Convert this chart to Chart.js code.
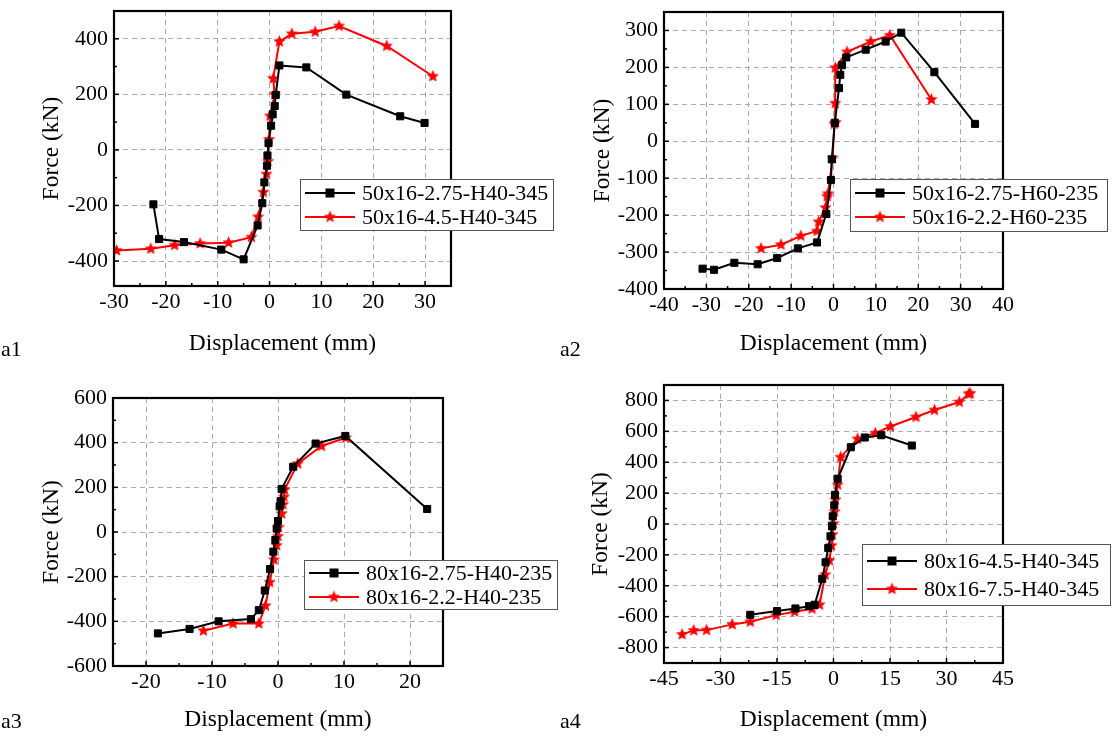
<!DOCTYPE html>
<html lang="en">
<head>
<meta charset="UTF-8">
<title>Force - Displacement curves</title>
<script src="https://cdn.jsdelivr.net/npm/chart.js"></script>
<style>
  body { margin: 0; background: #fff; }
  #wrap { position: relative; width: 1116px; height: 739px; overflow: hidden; }
  canvas { position: absolute; }
  .tag { position: absolute; font: 22px "Liberation Serif", "Times New Roman", serif; color: #000; }
</style>
</head>
<body>
<div id="wrap">
  <canvas id="a1" width="558" height="370" style="left:0;top:0"></canvas>
  <canvas id="a2" width="558" height="370" style="left:558px;top:0"></canvas>
  <canvas id="a3" width="558" height="369" style="left:0;top:370px"></canvas>
  <canvas id="a4" width="558" height="369" style="left:558px;top:370px"></canvas>
  <div class="tag" style="left:1px;top:336px">a1</div>
  <div class="tag" style="left:560px;top:336px">a2</div>
  <div class="tag" style="left:1px;top:708px">a3</div>
  <div class="tag" style="left:560px;top:708px">a4</div>
</div>
<script>
// ---- a1 ----
const a1Names = ['50x16-2.75-H40-345', '50x16-4.5-H40-345'];
const a1BlackX = [-22.4, -21.3, -16.5, -9.3, -5.0, -2.3, -1.4, -1.0, -0.5, -0.4, -0.2, 0.3, 0.6, 1.0, 1.2, 1.9, 7.1, 14.8, 25.2, 29.9];
const a1BlackY = [-196, -321, -332, -359, -394, -272, -192, -117, -57, -20, 24, 87, 128, 158, 198, 304, 297, 199, 121, 97];
const a1RedX = [-29.5, -22.9, -18.3, -13.4, -7.9, -3.5, -2.2, -1.2, -0.6, -0.3, -0.1, 0.1, 1.0, 0.7, 1.9, 4.3, 8.8, 13.4, 22.6, 31.5];
const a1RedY = [-362, -356, -343, -337, -334, -314, -241, -152, -87, -41, 38, 122, 201, 257, 390, 418, 425, 446, 374, 265];
const a1XTicks = [-30, -20, -10, 0, 10, 20, 30];
const a1YTicks = [-400, -200, 0, 200, 400];

// ---- a2 ----
const a2Names = ['50x16-2.75-H60-235', '50x16-2.2-H60-235'];
const a2BlackX = [-30.9, -28.2, -23.4, -17.9, -13.3, -8.4, -3.9, -1.7, -0.6, -0.4, 0.3, 1.3, 1.6, 2.0, 3.0, 7.6, 12.3, 16.0, 23.8, 33.4];
const a2BlackY = [-345, -348, -329, -333, -316, -290, -274, -197, -105, -49, 50, 144, 180, 206, 227, 248, 270, 294, 187, 47];
const a2RedX = [-17.1, -12.4, -7.7, -3.9, -3.5, -1.9, -1.5, -1.3, -0.2, 0.2, 0.5, 0.4, 0.4, 3.2, 8.8, 13.3, 23.1];
const a2RedY = [-290, -280, -256, -243, -218, -180, -149, -142, -45, 47, 51, 103, 199, 242, 270, 287, 113];
const a2XTicks = [-40, -30, -20, -10, 0, 10, 20, 30, 40];
const a2YTicks = [-400, -300, -200, -100, 0, 100, 200, 300];

// ---- a3 ----
const a3Names = ['80x16-2.75-H40-235', '80x16-2.2-H40-235'];
const a3BlackX = [-18.2, -13.4, -9.0, -4.1, -2.9, -2.0, -1.2, -0.7, -0.4, -0.2, 0, 0.25, 0.4, 0.55, 2.3, 5.7, 10.2, 22.6];
const a3BlackY = [-454, -434, -400, -390, -350, -262, -166, -88, -36, 15, 49, 115, 138, 193, 292, 396, 430, 103];
const a3RedX = [-11.3, -6.8, -2.9, -1.9, -1.25, -0.6, -0.2, 0, 0.1, 0.55, 0.75, 0.9, 1.0, 3.0, 6.6, 10.3];
const a3RedY = [-442, -410, -410, -330, -225, -124, -60, -19, 21, 82, 123, 157, 190, 306, 385, 422];
const a3XTicks = [-20, -10, 0, 10, 20];
const a3YTicks = [-600, -400, -200, 0, 200, 400, 600];

// ---- a4 ----
const a4Names = ['80x16-4.5-H40-345', '80x16-7.5-H40-345'];
const a4BlackX = [-22.1, -15.0, -10.1, -6.5, -5.0, -3.0, -2.1, -1.4, -0.8, -0.4, -0.2, 0.2, 0.4, 1.1, 4.6, 8.3, 12.7, 20.8];
const a4BlackY = [-588, -564, -547, -532, -523, -355, -248, -155, -80, -15, 50, 121, 189, 293, 497, 560, 575, 508];
const a4RedX = [-40.2, -37.1, -33.7, -26.9, -22.1, -15.2, -10.3, -5.7, -3.7, -2.2, -1.1, -0.5, -0.3, 0, 0.3, 0.5, 1.1, 1.9, 6.4, 11.1, 15.1, 21.9, 26.8, 33.4, 35.9, 36.3];
const a4RedY = [-715, -689, -687, -650, -633, -590, -568, -549, -523, -329, -235, -140, -69, 2, 80, 157, 254, 433, 551, 588, 631, 693, 738, 790, 842, 846];
const a4XTicks = [-45, -30, -15, 0, 15, 30, 45];
const a4YTicks = [-800, -600, -400, -200, 0, 200, 400, 600, 800];

const SERIF = '"Liberation Serif", "Times New Roman", serif';

// filled five-point star used as the red marker
function makeStar(r, color) {
  const c = document.createElement('canvas');
  const s = Math.ceil(r * 2) + 2;
  c.width = c.height = s;
  const g = c.getContext('2d');
  g.fillStyle = color;
  g.beginPath();
  for (let i = 0; i < 10; i++) {
    const rad = i % 2 ? r * 0.45 : r;
    const a = -Math.PI / 2 + i * Math.PI / 5;
    g.lineTo(s / 2 + rad * Math.cos(a), s / 2 + rad * Math.sin(a));
  }
  g.closePath();
  g.fill();
  return c;
}
const star = makeStar(6.5, '#ff0000');

const zip = (xs, ys) => xs.map((x, i) => ({ x: x, y: ys[i] }));

// box, inward ticks and legend
const framePlugin = {
  id: 'frame',
  afterDraw(chart, args, opts) {
    const { ctx, chartArea: a, scales } = chart;
    ctx.save();
    ctx.strokeStyle = '#000';
    ctx.lineWidth = 1.5;
    // minor + major ticks on bottom and left
    const drawTicks = (scale, vals, horizontal) => {
      const minors = [];
      for (let i = 0; i < vals.length - 1; i++) minors.push((vals[i] + vals[i + 1]) / 2);
      const step = vals[1] - vals[0];
      minors.push(vals[0] - step / 2, vals[vals.length - 1] + step / 2);
      const draw = (v, len) => {
        if (v < scale.min || v > scale.max) return;
        const p = scale.getPixelForValue(v);
        ctx.beginPath();
        if (horizontal) { ctx.moveTo(p, a.bottom); ctx.lineTo(p, a.bottom - len); }
        else { ctx.moveTo(a.left, p); ctx.lineTo(a.left + len, p); }
        ctx.stroke();
      };
      vals.forEach(v => draw(v, 5));
      minors.forEach(v => draw(v, 3));
    };
    drawTicks(scales.x, opts.xTicks, true);
    drawTicks(scales.y, opts.yTicks, false);
    ctx.lineWidth = 2.2;
    ctx.strokeRect(a.left, a.top, a.right - a.left, a.bottom - a.top);

    // legend
    const L = opts.legend;
    ctx.fillStyle = '#fff';
    ctx.fillRect(L.x, L.y, L.w, L.h);
    ctx.strokeStyle = '#555';
    ctx.lineWidth = 1;
    ctx.strokeRect(L.x + 0.5, L.y + 0.5, L.w, L.h);
    ctx.font = '22px ' + SERIF;
    ctx.textBaseline = 'middle';
    chart.data.datasets.forEach((ds, i) => {
      const y = L.y + L.rows[i];
      const x1 = L.x + 5, x2 = L.x + 55;
      ctx.strokeStyle = ds.borderColor;
      ctx.lineWidth = 2;
      ctx.beginPath(); ctx.moveTo(x1, y); ctx.lineTo(x2, y); ctx.stroke();
      const xm = (x1 + x2) / 2;
      if (ds.pointStyle === 'rect') {
        ctx.fillStyle = ds.borderColor;
        ctx.fillRect(xm - 4.5, y - 4.5, 9, 9);
      } else {
        ctx.drawImage(star, xm - star.width / 2, y - star.height / 2);
      }
      ctx.fillStyle = '#000';
      ctx.fillText(ds.label, L.x + 62, y + 1);
    });
    ctx.restore();
  }
};

function makePanel(id, names, bx, by, rx, ry, xr, yr, xTicks, yTicks, area, titles, legend) {
  const cv = document.getElementById(id);
  const W = cv.width, H = cv.height;
  const tickFont = { family: SERIF, size: 22 };
  const titleFont = { family: SERIF, size: 23.5 };
  new Chart(cv, {
    type: 'scatter',
    data: {
      datasets: [
        {
          label: names[0], data: zip(bx, by), showLine: true,
          borderColor: '#000', backgroundColor: '#000', borderWidth: 2,
          pointStyle: 'rect', pointRadius: 5, pointBorderWidth: 1, tension: 0
        },
        {
          label: names[1], data: zip(rx, ry), showLine: true,
          borderColor: '#ff0000', backgroundColor: '#ff0000', borderWidth: 2,
          pointStyle: star, pointRadius: 6.5, tension: 0
        }
      ]
    },
    options: {
      responsive: false,
      animation: false,
      devicePixelRatio: 1,
      layout: { padding: { left: 0, top: area.top, right: W - area.right, bottom: 0 } },
      plugins: {
        legend: { display: false },
        tooltip: { enabled: false },
        frame: { xTicks: xTicks, yTicks: yTicks, legend: legend }
      },
      scales: {
        x: {
          type: 'linear', min: xr[0], max: xr[1],
          afterBuildTicks: s => { s.ticks = xTicks.map(v => ({ value: v })); },
          afterFit: s => { s.height = H - area.bottom; s.paddingLeft = 0; s.paddingRight = 0; },
          ticks: { font: tickFont, color: '#000', maxRotation: 0, padding: 3, autoSkip: false },
          grid: { color: '#aaaaaa', lineWidth: 1, drawTicks: false },
          border: { display: false, dash: [5, 4] },
          title: { display: true, text: 'Displacement (mm)', font: titleFont, color: '#000', padding: { top: 0, bottom: titles.xPad } }
        },
        y: {
          type: 'linear', min: yr[0], max: yr[1],
          afterBuildTicks: s => { s.ticks = yTicks.map(v => ({ value: v })); },
          afterFit: s => { s.width = area.left; s.paddingTop = 0; s.paddingBottom = 0; },
          ticks: { font: tickFont, color: '#000', padding: 6, autoSkip: false },
          grid: { color: '#aaaaaa', lineWidth: 1, drawTicks: false },
          border: { display: false, dash: [5, 4] },
          title: { display: true, text: 'Force (kN)', font: titleFont, color: '#000', padding: { top: titles.yPad, bottom: 0 } }
        }
      }
    },
    plugins: [framePlugin]
  });
}

makePanel('a1', a1Names, a1BlackX, a1BlackY, a1RedX, a1RedY, [-30, 35], [-490, 500], a1XTicks, a1YTicks,
  { left: 114, top: 11, right: 451, bottom: 286 }, { xPad: 12, yPad: 38 },
  { x: 300, y: 179, w: 253, h: 51, rows: [14, 38] });
makePanel('a2', a2Names, a2BlackX, a2BlackY, a2RedX, a2RedY, [-40, 40], [-400, 350], a2XTicks, a2YTicks,
  { left: 106, top: 12, right: 445, bottom: 289 }, { xPad: 12, yPad: 31 },
  { x: 292, y: 179, w: 257, h: 52, rows: [14, 38] });
makePanel('a3', a3Names, a3BlackX, a3BlackY, a3RedX, a3RedY, [-25, 25], [-600, 600], a3XTicks, a3YTicks,
  { left: 113, top: 28, right: 443, bottom: 296 }, { xPad: 5, yPad: 38 },
  { x: 304, y: 190, w: 253, h: 49, rows: [13, 37] });
makePanel('a4', a4Names, a4BlackX, a4BlackY, a4RedX, a4RedY, [-45, 45], [-900, 900], a4XTicks, a4YTicks,
  { left: 106, top: 15, right: 445, bottom: 293 }, { xPad: 5, yPad: 29 },
  { x: 304, y: 174, w: 248, h: 61, rows: [17, 45] });
</script>
</body>
</html>
